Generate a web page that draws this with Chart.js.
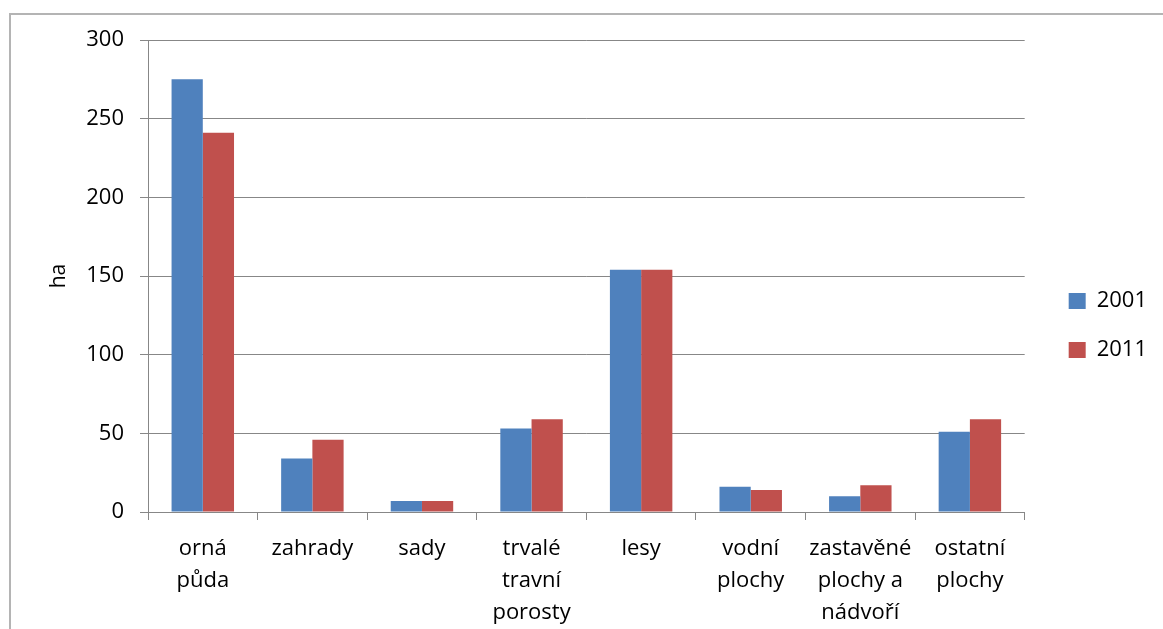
<!DOCTYPE html>
<html>
<head>
<meta charset="utf-8">
<script src="https://cdn.jsdelivr.net/npm/chart.js@4.4.1/dist/chart.umd.min.js"></script>
<style>
    html, body { margin: 0; padding: 0; background: #fff; overflow: hidden; }
    #frame { position: absolute; left: 9px; top: 13px; width: 1200px; height: 700px; border-left: 2px solid #b4b4b4; border-top: 2px solid #b4b4b4; }
    #wrap { position: absolute; left: 0; top: 0; width: 1163px; height: 629px; }
</style>
</head>
<body>
<div id="frame"></div>
<div id="wrap"><canvas id="land-chart" width="1163" height="629"></canvas></div>
<script>
// land use categories (multi-line labels like the original)
const categories = [
    ['orná', 'půda'],
    ['zahrady'],
    ['sady'],
    ['trvalé', 'travní', 'porosty'],
    ['lesy'],
    ['vodní', 'plochy'],
    ['zastavěné', 'plochy a', 'nádvoří'],
    ['ostatní', 'plochy']
];
const values2001 = [275, 34, 7, 53, 154, 16, 10, 51];
const values2011 = [241, 46, 7, 59, 154, 14, 17, 59];
const yTicks = [0, 50, 100, 150, 200, 250, 300];

const FONT = "'Open Sans', 'Noto Sans', sans-serif";
const gridColor = '#878787';

// nudge the legend a bit right/up without touching the plot area
const legendNudge = {
    id: 'legendNudge',
    afterLayout(chart) {
        const lg = chart.legend;
        if (!lg) return;
        lg.left += 17; lg.right += 17;
        lg.top -= 9; lg.bottom -= 9;
    }
};

window.onload = function () {
    const ctx = document.getElementById('land-chart').getContext('2d');
    new Chart(ctx, {
        type: 'bar',
        data: {
            labels: categories,
            datasets: [{
                label: '2001',
                data: values2001,
                backgroundColor: '#4f81bd',
                categoryPercentage: 0.57,
                barPercentage: 1.0
            },
            {
                label: '2011',
                data: values2011,
                backgroundColor: '#c0504d',
                categoryPercentage: 0.57,
                barPercentage: 1.0
            }]
        },
        plugins: [legendNudge],
        options: {
            responsive: false,
            animation: false,
            devicePixelRatio: 1,
            layout: { padding: { left: 0, top: 40, right: 23, bottom: 0 } },
            plugins: {
                tooltip: { enabled: false },
                legend: {
                    position: 'right',
                    align: 'center',
                    labels: {
                        boxWidth: 17,
                        boxHeight: 16,
                        padding: 27,
                        color: '#000',
                        font: { family: FONT, size: 22 }
                    }
                }
            },
            scales: {
                x: {
                    grid: {
                        drawOnChartArea: false,
                        drawTicks: true,
                        tickLength: 8,
                        color: gridColor
                    },
                    border: { color: gridColor },
                    ticks: {
                        color: '#000',
                        maxRotation: 0,
                        autoSkip: false,
                        padding: 13,
                        font: { family: FONT, size: 22, lineHeight: 1.45 }
                    },
                    afterFit: function (scale) { scale.height = 117; }
                },
                y: {
                    min: 0,
                    max: 300,
                    afterBuildTicks: function (scale) {
                        scale.ticks = yTicks.map(v => ({ value: v }));
                    },
                    grid: { color: gridColor, tickLength: 8 },
                    border: { color: gridColor },
                    ticks: {
                        color: '#000',
                        padding: 16,
                        font: { family: FONT, size: 22 }
                    },
                    title: {
                        display: true,
                        text: 'ha',
                        color: '#000',
                        padding: { top: 46, bottom: 0 },
                        font: { family: FONT, size: 21 }
                    },
                    afterFit: function (scale) { scale.width = 148; }
                }
            }
        }
    });
};
</script>
</body>
</html>
